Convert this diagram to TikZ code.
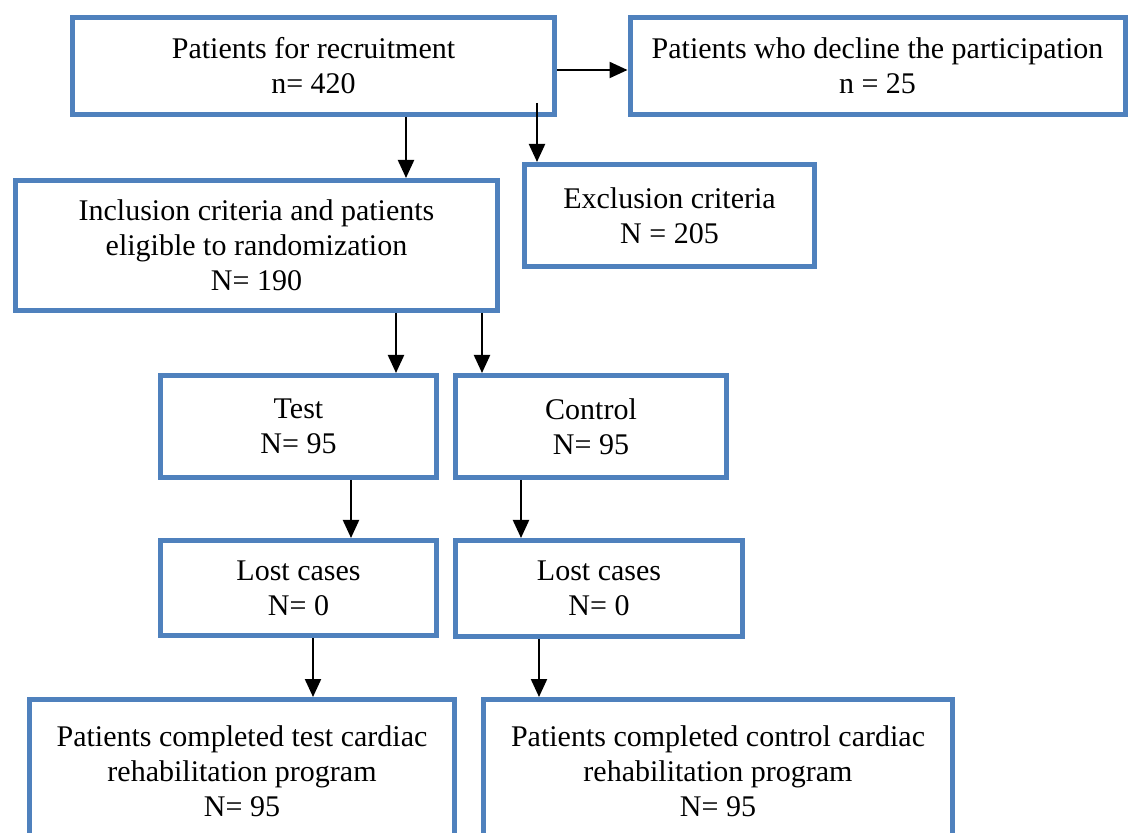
\documentclass[tikz,border=0pt]{standalone}
\usepackage{fontspec}
\setmainfont{Liberation Serif}
\usetikzlibrary{arrows.meta, calc}

\definecolor{boxblue}{HTML}{4F81BD}

\begin{document}
\begin{tikzpicture}[x=0.5pt,y=-0.5pt,
>={Triangle[length=9pt,width=8pt]},
arr/.style={->,line width=1.1pt,black},
box/.style={draw=boxblue,line width=2.5pt,fill=white,align=center,inner sep=0pt,
  font=\fontsize{15}{17.5}\selectfont,text=black}]

  \useasboundingbox (0,0) rectangle (1140,833);
  \clip (0,0) rectangle (1140,833);

  % recruitment
  \node[box,minimum width=241pt,minimum height=48.5pt] (recruit) at (313.5,66)
    {Patients for recruitment\\n= 420};
  \node[box,minimum width=247.5pt,minimum height=48.5pt] (decline) at (877.5,66)
    {Patients who decline the participation\\n = 25};
  \node[box,minimum width=241pt,minimum height=65pt] (incl) at (256.5,245.5)
    {Inclusion criteria and patients\\eligible to randomization\\N= 190};
  \node[box,minimum width=145pt,minimum height=51pt] (excl) at (669.5,215.5)
    {Exclusion criteria\\N = 205};

  % randomization
  \node[box,minimum width=138pt,minimum height=51pt] (test) at (298.5,426.5)
    {Test\\N= 95};
  \node[box,minimum width=135.5pt,minimum height=51pt] (control) at (591,426.5)
    {Control\\N= 95};
  \node[box,minimum width=138pt,minimum height=47.5pt] (lostT) at (298.5,588)
    {Lost cases\\N= 0};
  \node[box,minimum width=143.5pt,minimum height=48pt] (lostC) at (599,588.5)
    {Lost cases\\N= 0};

  % completed
  \node[box,minimum width=212.5pt,minimum height=71.5pt] (doneT) at (242,771)
    {Patients completed test cardiac\\rehabilitation program\\N= 95};
  \node[box,minimum width=234.5pt,minimum height=71.5pt] (doneC) at (718,771)
    {Patients completed control cardiac\\rehabilitation program\\N= 95};

  \coordinate (exclstart) at (537,103);

  \draw[arr] (recruit.east |- 0,70) -- (decline.west |- 0,70);
  \draw[arr] (406,0 |- recruit.south) -- (406,0 |- incl.north);
  \draw[arr] (exclstart) -- (exclstart |- excl.north);
  \draw[arr] (396,0 |- incl.south) -- (396,0 |- test.north);
  \draw[arr] (482,0 |- incl.south) -- (482,0 |- control.north);
  \draw[arr] (351,0 |- test.south) -- (351,0 |- lostT.north);
  \draw[arr] (521,0 |- control.south) -- (521,0 |- lostC.north);
  \draw[arr] (313,0 |- lostT.south) -- (313,0 |- doneT.north);
  \draw[arr] (539,0 |- lostC.south) -- (539,0 |- doneC.north);
\end{tikzpicture}
\end{document}
